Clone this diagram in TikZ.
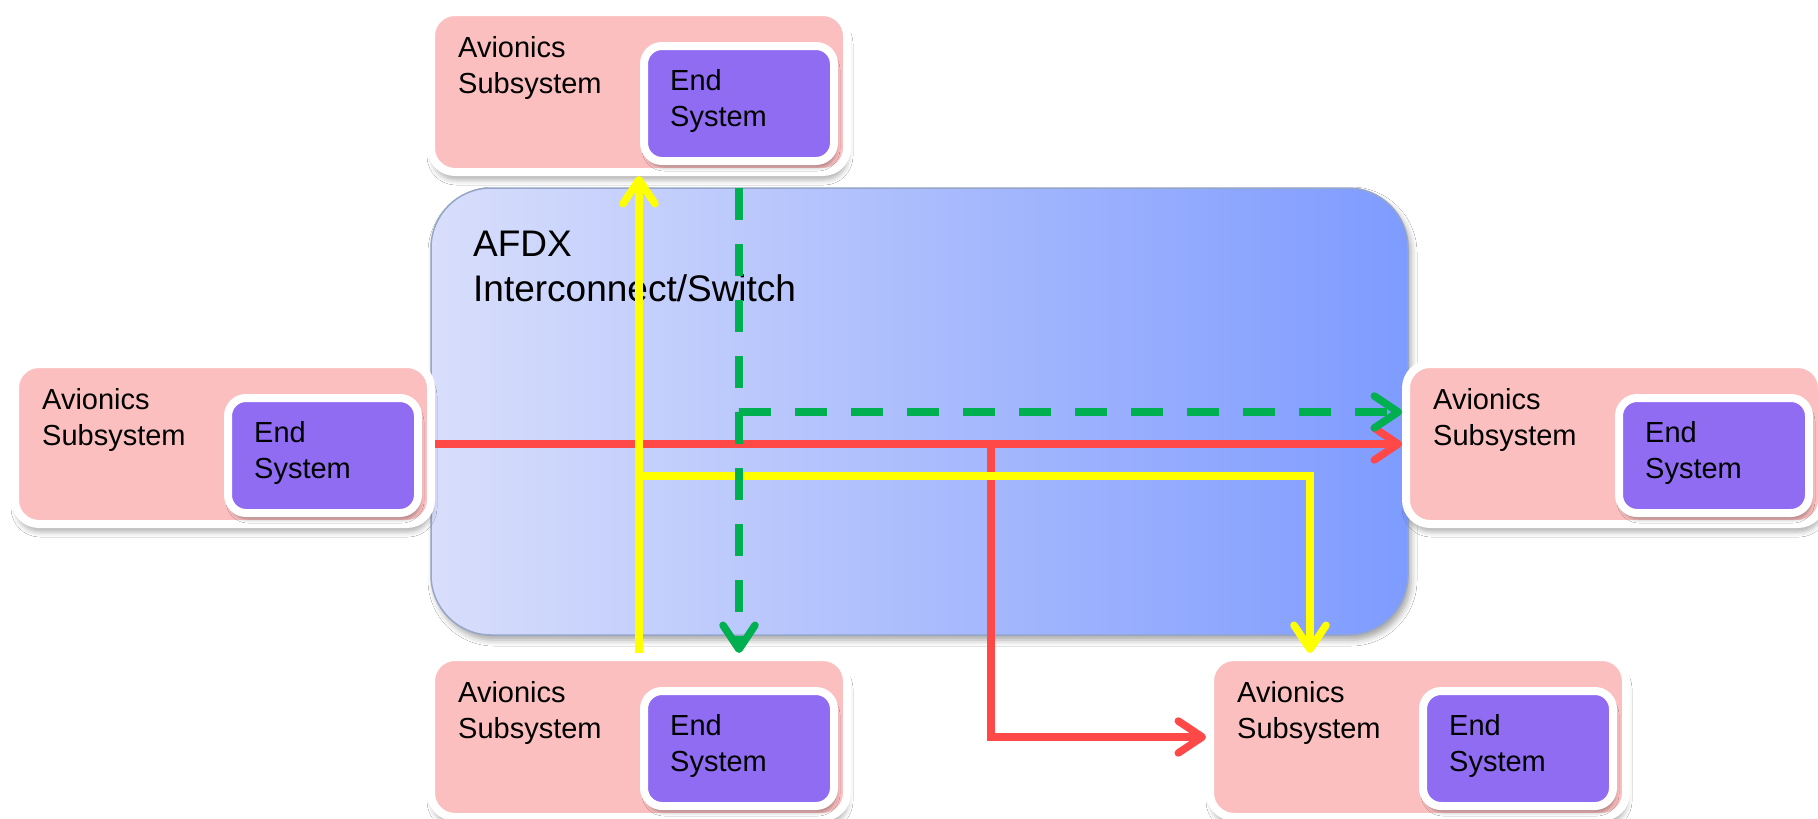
\documentclass[tikz,border=0pt]{standalone}
\usepackage{fontspec}
\setmainfont{Liberation Sans}
\usetikzlibrary{arrows.meta,shadows.blur,calc}

\definecolor{subpink}{RGB}{252,191,191}
\definecolor{espurple}{RGB}{144,108,242}
\definecolor{swleft}{RGB}{216,222,251}
\definecolor{swright}{RGB}{126,155,255}
\definecolor{swedge}{RGB}{150,166,198}
\definecolor{flowred}{RGB}{255,72,72}
\definecolor{flowyellow}{RGB}{255,255,0}
\definecolor{flowgreen}{RGB}{0,176,80}

\tikzset{
  subbox/.style={draw=white, line width=8pt, fill=subpink, rounded corners=24pt,
    minimum width=416pt, minimum height=160pt, inner sep=0pt,
    blur shadow={shadow xshift=1pt, shadow yshift=-8pt, shadow blur radius=5pt, shadow opacity=30}},
  esbox/.style={draw=white, line width=8pt, fill=espurple, rounded corners=18pt,
    minimum width=190pt, minimum height=115pt, inner sep=0pt,
    blur shadow={shadow xshift=2pt, shadow yshift=-6pt, shadow blur radius=4pt, shadow opacity=35}},
  lbl/.style={font=\fontsize{29}{36}\selectfont, align=left, anchor=north west, inner sep=0pt},
  switchbox/.style={draw=swedge, line width=1.5pt, rounded corners=60pt,
    left color=swleft, right color=swright,
    minimum width=977pt, minimum height=447pt, inner sep=0pt,
    blur shadow={shadow xshift=3pt, shadow yshift=-5pt, shadow blur radius=6pt, shadow opacity=35}},
  swlbl/.style={font=\fontsize{37}{45}\selectfont, align=left, anchor=north west, inner sep=0pt},
  flow/.style={line width=7.5pt, -{Straight Barb[length=24pt,width=32pt,round]}},
  redflow/.style={flow, draw=flowred},
  yelflow/.style={flow, draw=flowyellow},
  grnflow/.style={flow, draw=flowgreen, dash pattern=on 32pt off 24pt, dash phase=44pt},
}

% one avionics subsystem with its end system; #2,#3 = top-left of the pink area
\newcommand\avsub[3]{%
  \node[subbox] (#1) at ({#2+204},{#3+76}) {};
  \node[esbox] (#1-es) at ({#2+304},{#3+87.5}) {};
  \node[lbl] (#1-lbl) at ({#2+23},{#3+20}) {Avionics\\Subsystem};
  \node[lbl] (#1-eslbl) at ({#2+235},{#3+53}) {End\\System};
}

\begin{document}
\begin{tikzpicture}[x=1pt,y=-1pt]
\useasboundingbox (0,0) rectangle (1818,819);
\fill[white] (0,0) rectangle (1818,819);

% the switch
\node[switchbox] (sw) at (919.5,411.5) {};
\node[swlbl] (swt) at (473,231) {AFDX\\Interconnect/Switch};

% subsystems
\avsub{tsub}{435}{16}
\avsub{lsub}{19}{368}
\avsub{rsub}{1410}{368}
\avsub{blsub}{435}{661}
\avsub{brsub}{1214}{661}

% helper coordinates for the bends
\coordinate (redx) at (991,0);
\coordinate (ylev) at (0,476);
\coordinate (gx) at ([xshift=100pt]tsub.south);

% red flow
\draw[redflow] (lsub.east) -- (rsub.west);
\draw[redflow] (lsub.east) -- (lsub.east -| redx) |- (brsub.west);

% yellow flow
\draw[yelflow] (blsub.north) -- (tsub.south);
\draw[yelflow] (blsub.north) -- (blsub.north |- ylev) -| ([xshift=-108pt]brsub.north);

% green flow
\draw[grnflow] (gx) -- ([xshift=100pt]blsub.north);
\draw[grnflow] (gx) |- ([yshift=32pt]rsub.west);
\end{tikzpicture}
\end{document}
